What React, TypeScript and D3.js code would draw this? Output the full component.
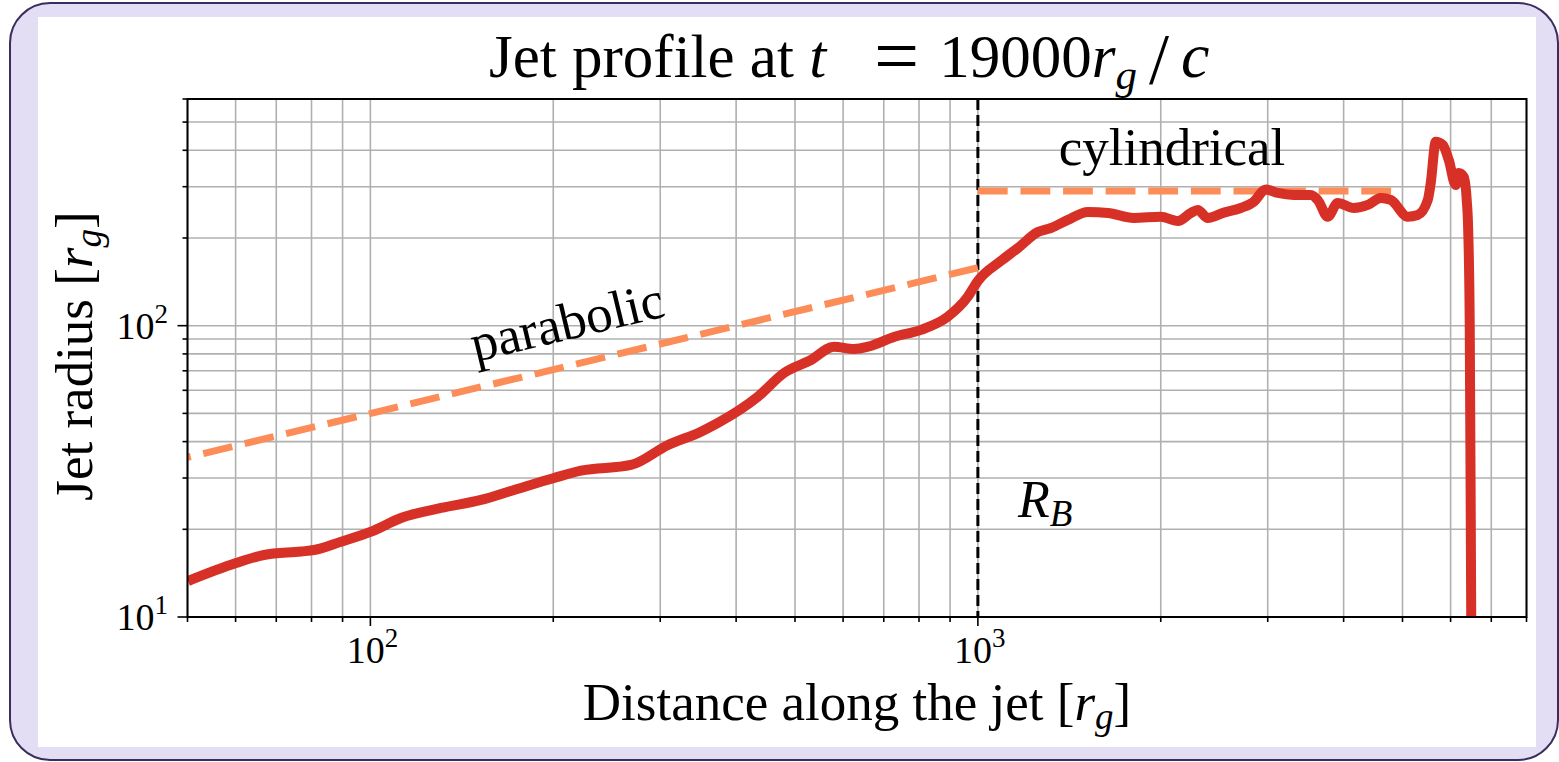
import React from "react";
import * as d3 from "d3";

// Jet profile: distance along the jet (r_g) vs. jet radius (r_g)
const distance = [
  50.1, 60.1, 66.8, 76.9, 80.8, 89.5, 100.3, 112.3, 130.7, 152.1, 172.4, 200.6, 222.2, 268.5,
  309.0, 350.1, 373.4, 434.5, 479.6, 531.2, 579.4, 625.2, 659.2, 727.5, 805.8, 892.5, 962.7,
  1000, 1091, 1164, 1255, 1319, 1407, 1517, 1637, 1806, 2000, 2134, 2242, 2301, 2390, 2540,
  2709, 2846, 2978, 3117, 3311, 3532, 3626, 3766, 3912, 4157, 4384, 4605, 4782, 5101, 5297,
  5503, 5565, 5672, 5824, 5958, 6118, 6189, 6306, 6378, 6414, 6451, 6488, 6500,
];
const radius = [
  13.29, 15.32, 16.32, 16.78, 16.98, 18.14, 19.63, 21.87, 23.67, 25.22, 27.29, 30.0, 31.78, 33.25,
  38.95, 43.26, 46.35, 57.05, 68.8, 76.25, 84.7, 83.2, 84.7, 91.47, 96.7, 107.4, 125.8,
  142.4, 166.8, 184.8, 209.7, 216.5, 230.7, 245.7, 243.8, 234.3, 236.7, 228.8, 243.8, 249.6, 234.3, 244.4,
  253.5, 266.5, 293.5, 285.5, 281.0, 281.0, 270.1, 236.7, 263.8, 253.5, 259.7, 274.5, 270.1, 236.7, 239.9,
  270.1, 309.0, 428.2, 417.2, 370.6, 304.1, 334.4, 324.0, 270.1, 213.0, 102.0, 10.0, 5.0,
];

// Reference power laws (end points, straight in log-log space)
const parabolicZ = [1000, 40];
const parabolicR = [158.1, 31.6];
const cylindricalZ = [1000, 4900];
const cylindricalR = [290, 290];
const bondiRadius = 1000;

// Axes
const xDomain = [50, 8000];
const yDomain = [10, 600];
const xMajor = [100, 1000];
const xMinor = [50, 60, 70, 80, 90, 200, 300, 400, 500, 600, 700, 800, 900, 2000, 3000, 4000, 5000, 6000, 7000, 8000];
const yMajor = [10, 100];
const yMinor = [20, 30, 40, 50, 60, 70, 80, 90, 200, 300, 400, 500, 600];
const xTickExp = ["2", "3"];
const yTickExp = ["1", "2"];

const FONT = "'Liberation Serif', 'Times New Roman', Times, serif";
const RED = "#d73027";
const ORANGE = "#fc8d59";
const GRID = "#b0b0b0";

const W = 1559;
const H = 762;
const plot = { left: 187.5, right: 1526.5, top: 99, bottom: 617 };

export default function App() {
  const x = d3.scaleLog().domain(xDomain).range([plot.left, plot.right]);
  const y = d3.scaleLog().domain(yDomain).range([plot.bottom, plot.top]);

  const pts: [number, number][] = distance.map((d, i) => [d, radius[i]]);
  const curve = d3
    .line<[number, number]>()
    .x((d) => x(d[0]))
    .y((d) => y(d[1]))
    .curve(d3.curveMonotoneX);
  const straight = d3
    .line<[number, number]>()
    .x((d) => x(d[0]))
    .y((d) => y(d[1]));

  const parab: [number, number][] = parabolicZ.map((d, i) => [d, parabolicR[i]]);
  const cyl: [number, number][] = cylindricalZ.map((d, i) => [d, cylindricalR[i]]);

  const allX = [...xMajor, ...xMinor];
  const allY = [...yMajor, ...yMinor];

  const parabAngle =
    (Math.atan2(y(parabolicR[0]) - y(parabolicR[1]), x(parabolicZ[0]) - x(parabolicZ[1])) * 180) / Math.PI;

  return (
    <svg
      width={W}
      height={H}
      style={{ position: "absolute", left: 0, top: 0, fontFamily: FONT }}
    >
      <defs>
        <clipPath id="plotClip">
          <rect x={plot.left} y={plot.top} width={plot.right - plot.left} height={plot.bottom - plot.top} />
        </clipPath>
      </defs>

      {/* frame */}
      <rect x={10} y={3} width={1548} height={757} rx={40} ry={40} fill="#e4def5" stroke="#3b2d5e" strokeWidth={2} />
      <rect x={38} y={17} width={1498} height={730} fill="#ffffff" />

      {/* grid */}
      <g stroke={GRID} strokeWidth={1.6}>
        {allX.map((v) => (
          <line key={"gx" + v} x1={x(v)} x2={x(v)} y1={plot.top} y2={plot.bottom} />
        ))}
        {allY.map((v) => (
          <line key={"gy" + v} x1={plot.left} x2={plot.right} y1={y(v)} y2={y(v)} />
        ))}
      </g>

      <g clipPath="url(#plotClip)">
        {/* Bondi radius marker */}
        <line
          x1={x(bondiRadius)}
          x2={x(bondiRadius)}
          y1={plot.top}
          y2={plot.bottom}
          stroke="#000"
          strokeWidth={3}
          strokeDasharray="11,5"
        />
        <path d={straight(parab) || ""} fill="none" stroke={ORANGE} strokeWidth={7} strokeDasharray="29.8,12.8" />
        <path d={straight(cyl) || ""} fill="none" stroke={ORANGE} strokeWidth={7} strokeDasharray="29.8,12.8" />
        <path d={curve(pts) || ""} fill="none" stroke={RED} strokeWidth={10} strokeLinejoin="round" />
      </g>

      {/* spines */}
      <rect
        x={plot.left}
        y={plot.top}
        width={plot.right - plot.left}
        height={plot.bottom - plot.top}
        fill="none"
        stroke="#000"
        strokeWidth={2}
      />

      {/* ticks */}
      <g stroke="#000" strokeWidth={1.6}>
        {xMajor.map((v) => (
          <line key={"tx" + v} x1={x(v)} x2={x(v)} y1={plot.bottom} y2={plot.bottom + 9} />
        ))}
        {xMinor.map((v) => (
          <line key={"tmx" + v} x1={x(v)} x2={x(v)} y1={plot.bottom} y2={plot.bottom + 5} />
        ))}
        {yMajor.map((v) => (
          <line key={"ty" + v} x1={plot.left - 10} x2={plot.left} y1={y(v)} y2={y(v)} />
        ))}
        {yMinor.map((v) => (
          <line key={"tmy" + v} x1={plot.left - 5} x2={plot.left} y1={y(v)} y2={y(v)} />
        ))}
      </g>

      {/* tick labels */}
      {xMajor.map((v, i) => (
        <text key={"lx" + v} x={x(v) + 2} y={663} fontSize={38} textAnchor="middle" fill="#000">
          10
          <tspan dy={-16} fontSize={27}>
            {xTickExp[i]}
          </tspan>
        </text>
      ))}
      {yMajor.map((v, i) => (
        <text key={"ly" + v} x={168} y={y(v) + 13} fontSize={38} textAnchor="end" fill="#000">
          10
          <tspan dy={-16} fontSize={27}>
            {yTickExp[i]}
          </tspan>
        </text>
      ))}

      {/* title */}
      <text x={489} y={77} fontSize={61} textAnchor="start" fill="#000" style={{ whiteSpace: "pre" }}>
        <tspan>{"Jet profile at "}</tspan>
        <tspan fontStyle="italic">t</tspan>
        <tspan dx={48} dy={6} fontSize={80}>=</tspan>
        <tspan dx={20} dy={-6}>19000</tspan>
        <tspan fontStyle="italic">r</tspan>
        <tspan fontStyle="italic" fontSize={43} dy={12}>
          g
        </tspan>
        <tspan dx={12} dy={-6} fontSize={72}>/</tspan>
        <tspan dx={12} dy={-6} fontStyle="italic" fontSize={64}>c</tspan>
      </text>

      {/* axis labels */}
      <text x={857} y={720} fontSize={53} textAnchor="middle" fill="#000" style={{ whiteSpace: "pre" }}>
        <tspan>{"Distance along the jet ["}</tspan>
        <tspan fontStyle="italic">r</tspan>
        <tspan fontStyle="italic" fontSize={37} dy={9}>
          g
        </tspan>
        <tspan dy={-9}>]</tspan>
      </text>
      <text
        transform={`translate(92, 356) rotate(-90)`}
        fontSize={53}
        textAnchor="middle"
        fill="#000"
        style={{ whiteSpace: "pre" }}
      >
        <tspan>{"Jet radius ["}</tspan>
        <tspan fontStyle="italic">r</tspan>
        <tspan fontStyle="italic" fontSize={37} dy={9}>
          g
        </tspan>
        <tspan dy={-9}>]</tspan>
      </text>

      {/* annotations */}
      <text
        transform={`translate(571, 339) rotate(${parabAngle})`}
        fontSize={53}
        textAnchor="middle"
        fill="#000"
      >
        parabolic
      </text>
      <text x={1172} y={165} fontSize={53} textAnchor="middle" fill="#000">
        cylindrical
      </text>
      <text x={1018} y={517} fontSize={52} fill="#000">
        <tspan fontStyle="italic">R</tspan>
        <tspan fontStyle="italic" fontSize={37} dy={9}>
          B
        </tspan>
      </text>
    </svg>
  );
}
